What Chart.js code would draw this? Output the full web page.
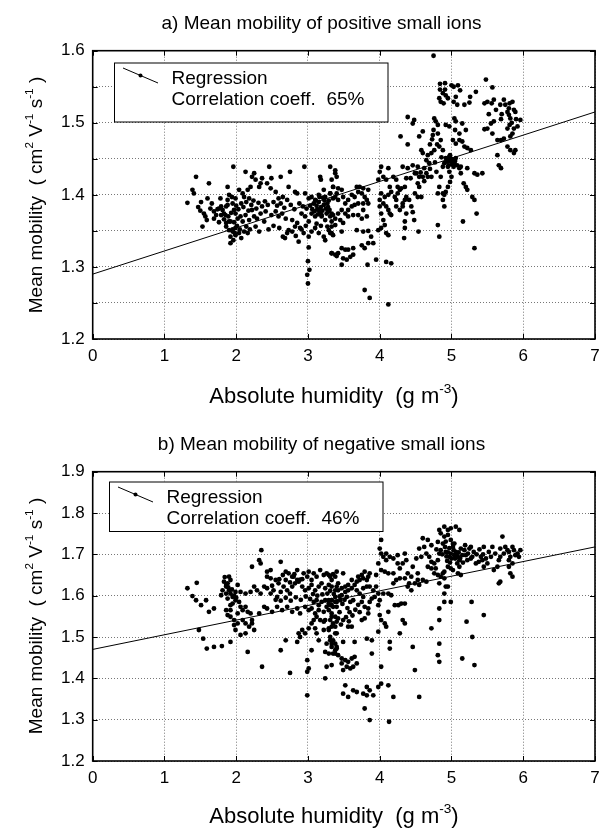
<!DOCTYPE html>
<html>
<head>
<meta charset="utf-8">
<script src="https://cdn.jsdelivr.net/npm/chart.js@4.4.1/dist/chart.umd.min.js"></script>
<style>
  body { margin: 0; background: #fff; font-family: "Liberation Sans", Arial, sans-serif; }
  #page { position: relative; width: 599px; height: 828px; overflow: hidden; }
  canvas { position: absolute; left: 0; }
  .txt { position: absolute; white-space: nowrap; color: #000; transform: translate(-50%, -50%); line-height: 1; }
  .ytitle { transform: translate(-50%, -50%) rotate(-90deg); }
  sup { font-size: 62%; line-height: 0; vertical-align: 0.75em; }
</style>
</head>
<body>
<div id="page">
  <canvas id="chartPos" width="599" height="414" style="top:0"></canvas>
  <canvas id="chartNeg" width="599" height="414" style="top:414px"></canvas>

  <div class="txt" style="left:321.5px;top:22px;font-size:19px">a) Mean mobility of positive small ions</div>
  <div class="txt ytitle" style="left:35px;top:195px;font-size:19px">Mean mobility&nbsp; ( cm<sup>2</sup> V<sup>-1</sup> s<sup>-1</sup> )</div>
  <div class="txt" style="left:334px;top:396px;font-size:22px">Absolute humidity&nbsp; (g m<sup>-3</sup>)</div>

  <div class="txt" style="left:321.5px;top:443px;font-size:19px">b) Mean mobility of negative small ions</div>
  <div class="txt ytitle" style="left:35px;top:616px;font-size:19px">Mean mobility&nbsp; ( cm<sup>2</sup> V<sup>-1</sup> s<sup>-1</sup> )</div>
  <div class="txt" style="left:334px;top:816px;font-size:22px">Absolute humidity&nbsp; (g m<sup>-3</sup>)</div>
</div>
<script>
// absolute humidity (g m-3) vs mean mobility (cm2 V-1 s-1)
const positiveIons = [
  [1.32,1.389],[1.44,1.425],[1.62,1.416],[1.39,1.407],[1.41,1.402],[1.51,1.390],[1.55,1.374],[1.59,1.365],
  [1.57,1.370],[1.69,1.377],[1.69,1.367],[1.79,1.384],[1.81,1.379],[1.85,1.372],[1.88,1.386],[1.90,1.363],
  [1.86,1.361],[1.92,1.333],[1.96,1.439],[1.74,1.380],[1.64,1.381],[1.50,1.378],[1.47,1.383],[1.53,1.356],
  [1.78,1.395],[1.83,1.366],[1.95,1.352],[1.98,1.347],
  [1.88,1.411],[1.90,1.400],[1.94,1.397],[1.88,1.393],[1.95,1.388],[1.99,1.395],[2.09,1.402],[2.16,1.407],
  [2.20,1.411],[2.04,1.407],[2.11,1.397],[2.18,1.395],[2.13,1.432],[2.25,1.430],[2.22,1.425],[2.27,1.421],
  [2.36,1.423],[2.34,1.416],[2.32,1.411],[2.46,1.439],[2.49,1.423],[2.43,1.416],[2.48,1.409],[2.55,1.404],
  [2.65,1.397],[2.71,1.393],[2.59,1.395],[2.62,1.425],[2.75,1.432],[2.95,1.439],[3.17,1.425],[3.18,1.421],
  [3.31,1.439],[3.38,1.434],
  [1.76,1.381],[1.79,1.372],[1.83,1.374],[1.86,1.384],[1.89,1.370],[1.92,1.363],[1.97,1.379],[1.99,1.374],
  [2.02,1.367],[2.06,1.370],[2.09,1.363],[2.13,1.372],[2.18,1.365],[2.22,1.379],[2.25,1.370],[2.29,1.367],
  [2.34,1.374],[2.39,1.363],[2.41,1.377],[2.49,1.372],[2.55,1.377],[2.59,1.370],[2.64,1.374],[2.69,1.367],
  [2.78,1.365],[2.85,1.361],[2.91,1.374],[2.96,1.370],[3.01,1.363],[3.05,1.374],[3.10,1.370],[3.15,1.379],
  [3.19,1.372],[3.24,1.365],[3.28,1.377],[3.33,1.374],[3.38,1.367],
  [1.86,1.356],[1.90,1.351],[1.95,1.349],[1.99,1.354],[1.92,1.342],[1.96,1.337],[1.99,1.344],[2.04,1.347],
  [2.11,1.349],[2.16,1.347],[2.32,1.349],[2.65,1.342],[2.68,1.340],[2.71,1.347],[2.73,1.351],[2.78,1.349],
  [2.82,1.356],[2.89,1.354],[2.94,1.347],[3.01,1.342],[3.05,1.349],[3.10,1.354],[3.15,1.347],[3.22,1.342],
  [3.24,1.337],[3.29,1.351],[3.33,1.347],
  [2.73,1.411],[2.82,1.404],[2.85,1.402],[2.96,1.402],[3.01,1.395],[3.05,1.397],[3.10,1.393],[3.15,1.400],
  [3.22,1.407],[3.24,1.397],[3.31,1.402],[3.35,1.395],[3.40,1.402],[3.35,1.411],
  [3.01,1.327],[3.00,1.308],[3.02,1.296],[2.99,1.289],[3.00,1.277],[3.33,1.319],[3.40,1.315],
  [3.12,1.385],[3.15,1.390],[3.18,1.383],[3.20,1.378],[3.22,1.386],[3.25,1.381],[3.17,1.376],[3.13,1.380],
  [3.27,1.388],[3.23,1.392],[3.19,1.370],[3.28,1.383],[3.08,1.388],[3.30,1.379],[3.21,1.396],[3.14,1.373],
  [2.00,1.385],[2.03,1.380],[2.07,1.388],[2.10,1.383],[2.14,1.390],[2.17,1.378],[2.21,1.386],[2.24,1.392],
  [2.28,1.381],[2.31,1.389],[2.36,1.384],[2.40,1.391],[2.44,1.386],[2.52,1.390],[2.57,1.385],[2.62,1.388],
  [2.67,1.382],[2.76,1.386],[2.81,1.380],[2.88,1.388],[2.93,1.384],[2.98,1.381],[3.03,1.385],[3.06,1.380],
  [3.09,1.377],[3.11,1.392],[3.16,1.397],[3.26,1.374],[3.29,1.392],[1.60,1.395],[1.66,1.388],[1.72,1.372],
  [1.76,1.362],[1.93,1.375],[1.97,1.362],[2.01,1.357],[2.05,1.352],[2.07,1.340],[2.14,1.356],[2.19,1.352],
  [2.27,1.356],[2.45,1.352],[2.52,1.357],[2.60,1.354],[2.83,1.343],[2.87,1.335],[2.91,1.352],[2.97,1.357],
  [3.12,1.360],[3.18,1.357],[3.27,1.356],
  [3.38,1.430],[3.33,1.421],[3.40,1.425],[3.35,1.411],[3.42,1.409],[3.31,1.402],[3.38,1.397],[3.42,1.393],
  [3.47,1.407],[3.49,1.397],[3.52,1.388],[3.56,1.393],[3.61,1.400],[3.65,1.397],[3.70,1.404],[3.75,1.402],
  [3.79,1.397],[3.84,1.407],[3.77,1.409],[3.72,1.411],[3.68,1.411],[3.82,1.393],[3.84,1.388],[3.77,1.388],
  [3.70,1.388],[3.65,1.386],[3.61,1.384],[3.56,1.379],[3.52,1.374],[3.47,1.379],[3.42,1.374],[3.35,1.372],
  [3.31,1.370],[3.33,1.363],[3.38,1.358],[3.45,1.365],[3.49,1.361],[3.56,1.370],[3.63,1.372],[3.70,1.372],
  [3.75,1.367],[3.82,1.370],[3.77,1.379],[3.33,1.356],[3.31,1.347],[3.35,1.344],[3.47,1.349],[3.68,1.351],
  [3.77,1.349],[3.84,1.350],[3.88,1.342],[3.91,1.333],[3.84,1.333],[3.75,1.330],[3.79,1.326],[3.63,1.326],
  [3.56,1.324],[3.52,1.324],[3.47,1.326],[3.42,1.319],[3.38,1.317],[3.33,1.319],[3.49,1.312],[3.54,1.310],
  [3.59,1.314],[3.63,1.317],[3.47,1.303],[3.95,1.310],[3.83,1.303],[4.09,1.307],[4.16,1.305],[3.79,1.268],
  [3.86,1.257],[4.12,1.248],
  [4.02,1.439],[4.00,1.432],[4.05,1.425],[4.09,1.421],[4.14,1.411],[4.16,1.404],[4.12,1.400],[4.07,1.397],
  [4.02,1.402],[4.00,1.393],[4.05,1.388],[4.09,1.384],[4.12,1.379],[4.14,1.374],[4.16,1.372],[4.00,1.384],
  [4.02,1.374],[4.05,1.365],[4.07,1.358],[4.02,1.354],[3.98,1.351],[4.09,1.347],[4.12,1.344],[4.21,1.397],
  [4.23,1.393],[4.25,1.402],[4.28,1.407],[4.30,1.409],[4.23,1.384],[4.28,1.379],[4.32,1.388],[4.35,1.393],
  [4.37,1.397],[4.32,1.384],[4.37,1.374],[4.35,1.363],[4.34,1.340],[4.48,1.365],[4.49,1.402],[4.53,1.397],
  [4.58,1.397],[4.55,1.411],[4.53,1.416],[4.60,1.425],[4.65,1.430],[4.49,1.430],[4.43,1.423],[4.37,1.423],
  [4.35,1.411],[4.46,1.441],[4.39,1.437],[4.32,1.439],[4.23,1.421],[4.25,1.411],[4.54,1.349],[4.35,1.354],
  [3.98,1.421],[4.12,1.437],[4.19,1.425],
  [4.41,1.393],[4.44,1.384],[4.46,1.376],[4.57,1.431],[4.62,1.419],[4.70,1.436],[4.77,1.445],[4.79,1.432],
  [4.86,1.452],[4.80,1.470],[4.70,1.470],[4.73,1.477],
  [4.39,1.508],[4.48,1.504],[4.46,1.499],[4.29,1.481],[4.39,1.470],[4.60,1.488],[4.55,1.481],
  [4.75,1.593],
  [4.84,1.554],[4.91,1.555],[4.84,1.546],[4.91,1.546],[4.88,1.541],[4.83,1.534],[4.85,1.529],[4.89,1.527],
  [4.92,1.538],[4.95,1.534],[5.00,1.552],[5.03,1.550],[5.09,1.552],[5.12,1.545],[5.06,1.536],[5.03,1.529],
  [5.08,1.525],[5.18,1.525],[5.25,1.528],[5.26,1.536],[5.34,1.543],
  [4.76,1.506],[4.78,1.502],[4.81,1.497],[4.75,1.490],[4.74,1.483],[4.81,1.485],[4.85,1.476],[4.83,1.467],
  [4.88,1.462],[4.76,1.462],[4.72,1.458],[4.67,1.455],[4.60,1.458],[4.58,1.462],[4.65,1.448],[4.69,1.444],
  [4.62,1.437],[4.53,1.439],[4.51,1.430],[4.55,1.425],[4.67,1.425],[4.72,1.425],[4.85,1.425],[4.83,1.411],
  [4.88,1.393],[4.90,1.384],[4.81,1.358],[4.83,1.342],
  [4.92,1.497],[4.97,1.495],[5.04,1.506],[5.06,1.502],[5.05,1.490],[5.11,1.485],[5.02,1.476],[5.06,1.471],
  [5.11,1.476],[5.15,1.474],[5.18,1.467],[5.22,1.465],[5.27,1.462],[5.20,1.490],[5.15,1.499],
  [4.92,1.451],[4.95,1.448],[4.97,1.453],[4.99,1.446],[5.02,1.449],[5.04,1.444],[5.06,1.451],[5.03,1.439],
  [5.08,1.441],[5.11,1.437],[5.13,1.439],[4.95,1.439],[4.90,1.444],[4.88,1.439],[4.97,1.432],[5.00,1.425],
  [4.98,1.418],[4.95,1.411],[4.92,1.404],[4.90,1.400],[4.88,1.402],[4.81,1.402],[5.22,1.437],[5.13,1.430],
  [4.98,1.455],[5.01,1.442],[4.94,1.446],[5.05,1.447],[5.00,1.450],[4.96,1.441],
  [5.32,1.430],[5.36,1.428],[5.43,1.430],[5.17,1.416],[5.20,1.411],[5.22,1.407],[5.29,1.397],[5.32,1.393],
  [5.35,1.374],[5.16,1.363],[5.32,1.326],
  [5.48,1.560],[5.57,1.549],[5.46,1.527],[5.50,1.529],[5.56,1.527],[5.59,1.532],[5.68,1.525],[5.73,1.532],
  [5.81,1.527],[5.85,1.529],[5.80,1.520],[5.87,1.518],[5.78,1.515],[5.80,1.511],[5.82,1.506],[5.89,1.515],
  [5.96,1.504],[5.92,1.495],[5.87,1.492],[5.81,1.497],[5.78,1.492],[5.69,1.505],[5.59,1.502],[5.55,1.499],
  [5.50,1.492],[5.46,1.491],[5.57,1.485],[5.64,1.476],[5.69,1.476],[5.73,1.478],[5.64,1.455],[5.66,1.441],
  [5.69,1.437],[5.78,1.467],[5.82,1.462],[5.87,1.458],[5.89,1.462],[5.85,1.485],[5.82,1.481],
  [5.52,1.512],[5.62,1.518],[5.75,1.525],[5.70,1.512],[5.84,1.500],[5.90,1.505]
];

const negativeIons = [
  [1.32,1.618],[1.45,1.631],[1.39,1.599],[1.44,1.589],[1.51,1.577],[1.58,1.589],[1.62,1.561],[1.69,1.569],
  [1.48,1.517],[1.54,1.496],[1.59,1.472],[1.69,1.476],[1.80,1.478],[1.92,1.488],
  [1.83,1.634],[1.88,1.630],[1.86,1.622],[1.90,1.613],[1.81,1.613],[1.79,1.601],[1.86,1.605],[1.92,1.605],
  [1.88,1.593],[1.95,1.597],[1.99,1.589],[1.95,1.581],[1.92,1.577],[1.90,1.646],[1.92,1.638],[1.86,1.626],
  [2.02,1.626],[1.99,1.609],[2.06,1.573],[2.09,1.565],[2.13,1.573],[2.16,1.561],[2.20,1.557],
  [1.84,1.645],[1.89,1.620],[1.94,1.615],[1.97,1.600],[2.00,1.595],[2.04,1.585],
  [1.86,1.565],[1.88,1.553],[1.92,1.549],[1.97,1.541],[2.02,1.533],[2.09,1.541],[2.13,1.533],[2.18,1.525],
  [2.22,1.533],[2.25,1.517],[2.13,1.509],[2.06,1.505],[1.99,1.517],[1.97,1.529],[1.92,1.565],[2.02,1.557],
  [2.16,1.464],[2.22,1.541],
  [2.32,1.557],[2.39,1.573],[2.43,1.569],[2.50,1.561],[2.57,1.573],[2.64,1.565],[2.71,1.573],[2.78,1.561],
  [2.85,1.569],[2.89,1.557],[2.96,1.573],[3.01,1.565],[3.05,1.569],[3.10,1.557],[3.15,1.565],[3.22,1.561],
  [3.26,1.573],[3.33,1.577],[3.40,1.573],
  [2.06,1.609],[2.13,1.605],[2.20,1.609],[2.25,1.622],[2.29,1.613],[2.34,1.605],[2.39,1.622],[2.43,1.618],
  [2.48,1.605],[2.52,1.613],[2.57,1.597],[2.62,1.609],[2.66,1.622],[2.71,1.613],[2.75,1.605],[2.78,1.622],
  [2.82,1.630],[2.87,1.634],[2.92,1.622],[2.96,1.613],[3.01,1.618],[3.05,1.626],[3.10,1.613],[3.15,1.622],
  [3.19,1.630],[3.24,1.618],[3.29,1.626],[3.33,1.622],[3.38,1.613],
  [2.55,1.590],[2.62,1.588],[2.69,1.595],[2.76,1.588],[2.83,1.596],[2.90,1.590],[2.97,1.598],[3.03,1.592],
  [2.60,1.640],[2.75,1.632],[2.92,1.640],[3.07,1.604],[3.13,1.600],[3.20,1.603],
  [2.43,1.646],[2.48,1.642],[2.50,1.624],[2.55,1.638],[2.59,1.630],[2.65,1.650],[2.69,1.638],[2.73,1.654],
  [2.78,1.646],[2.81,1.652],[2.85,1.662],[2.89,1.639],[2.94,1.654],[2.99,1.646],[3.01,1.658],[3.05,1.638],
  [3.08,1.654],[3.12,1.646],[3.17,1.662],[3.22,1.650],[3.26,1.654],[3.31,1.646],[3.35,1.652],[3.40,1.658],
  [2.22,1.670],[2.32,1.686],[2.34,1.678],[2.35,1.710],[2.43,1.658],[2.48,1.662],[2.62,1.682],
  [2.69,1.658],[2.80,1.646],[2.85,1.638],
  [2.36,1.428],[2.62,1.468],[2.69,1.492],[2.75,1.413],[2.85,1.488],[2.99,1.444],[3.01,1.424],[2.99,1.416],
  [2.99,1.359],[3.05,1.468],[3.12,1.509],[3.15,1.492],[3.22,1.517],[3.24,1.464],[3.24,1.400],[3.26,1.428],
  [3.33,1.432],[3.38,1.460],[3.24,1.541],[3.29,1.521],[3.33,1.549],[3.38,1.525],[3.40,1.509],[3.31,1.492],
  [3.26,1.484],[3.33,1.476],[3.38,1.484],[3.40,1.472],[3.22,1.537],[3.17,1.541],[3.12,1.549],[3.08,1.541],
  [3.05,1.533],[3.10,1.521],[3.01,1.521],[2.96,1.509],[2.89,1.500],[2.87,1.509],[2.92,1.517],
  [3.08,1.585],[3.12,1.589],[3.15,1.577],[3.19,1.585],[3.24,1.589],[3.29,1.581],[3.33,1.589],[3.38,1.585],
  [3.27,1.605],[3.31,1.612],[3.36,1.604],[3.44,1.598],[3.48,1.580],[3.51,1.590],[3.55,1.570],[3.58,1.560],
  [3.44,1.560],[3.42,1.545],[3.46,1.530],[3.53,1.548],[3.57,1.538],[3.62,1.552],[3.66,1.566],[3.70,1.578],
  [3.72,1.560],
  [3.29,1.650],[3.33,1.638],[3.38,1.646],[3.42,1.630],[3.49,1.654],[3.40,1.622],[3.47,1.618],[3.52,1.622],
  [3.56,1.613],[3.61,1.618],[3.65,1.626],[3.70,1.646],[3.75,1.650],[3.77,1.642],[3.82,1.638],[3.84,1.646],
  [3.86,1.654],[3.79,1.658],[3.72,1.638],[3.68,1.634],[3.61,1.638],[3.56,1.626],[3.52,1.609],[3.47,1.601],
  [3.42,1.613],[3.38,1.597],[3.33,1.589],[3.29,1.589],[3.31,1.577],[3.35,1.573],[3.40,1.585],[3.45,1.589],
  [3.54,1.597],[3.59,1.585],[3.63,1.589],[3.77,1.618],[3.82,1.622],[3.86,1.622],[3.91,1.613],[3.95,1.622],
  [3.98,1.605],[3.93,1.597],[3.89,1.593],[3.77,1.597],[3.72,1.605],[3.68,1.613],
  [3.29,1.565],[3.33,1.557],[3.38,1.549],[3.31,1.541],[3.35,1.533],[3.40,1.537],[3.33,1.525],[3.29,1.517],
  [3.38,1.509],[3.31,1.500],[3.35,1.492],[3.33,1.484],[3.40,1.476],[3.38,1.468],[3.29,1.460],[3.35,1.460],
  [3.49,1.541],[3.56,1.525],[3.61,1.525],[3.49,1.488],[3.65,1.488],[3.42,1.456],[3.47,1.448],[3.52,1.444],
  [3.56,1.440],[3.61,1.448],[3.65,1.452],[3.68,1.436],[3.63,1.428],[3.59,1.424],[3.54,1.428],[3.49,1.420],
  [3.47,1.436],[3.75,1.585],[3.79,1.573],[3.84,1.569],[3.86,1.585],[3.75,1.541],[3.79,1.545],[3.84,1.557],
  [3.82,1.496],[3.89,1.492],[3.89,1.460],[4.00,1.553],[4.02,1.541],[4.07,1.533],[4.09,1.525],[4.12,1.561],
  [3.98,1.513],[3.98,1.577],[4.00,1.589],[4.05,1.605],[4.12,1.605],[4.16,1.601],[4.21,1.577],[4.26,1.577],
  [4.30,1.581],[4.35,1.581],[4.32,1.541],[4.35,1.533],[4.28,1.509],[4.14,1.488],[4.14,1.472],[4.02,1.428],
  [4.46,1.476],[4.49,1.420],[4.55,1.355],[4.19,1.355],[4.12,1.383],[4.02,1.387],[3.98,1.379],[3.91,1.359],
  [3.86,1.371],[3.82,1.379],[3.82,1.359],[3.77,1.363],[3.68,1.367],[3.63,1.371],[3.56,1.355],[3.49,1.363],
  [3.52,1.383],[3.79,1.327],[3.86,1.299],[4.13,1.295],
  [4.02,1.735],[4.00,1.714],[4.02,1.702],[4.05,1.694],[4.09,1.686],[4.14,1.694],[4.09,1.702],[4.19,1.690],
  [4.25,1.698],[4.35,1.702],[4.37,1.686],[4.32,1.678],[4.25,1.678],[4.28,1.666],[4.19,1.654],[4.12,1.654],
  [4.07,1.658],[4.02,1.662],[3.98,1.678],[3.95,1.650],[4.19,1.630],[4.23,1.638],[4.28,1.642],[4.35,1.642],
  [4.39,1.654],[4.44,1.646],[4.49,1.630],[4.53,1.638],[4.55,1.626],[4.60,1.638],[4.65,1.634],[4.53,1.654],
  [4.41,1.630],[4.39,1.622],[4.44,1.613],[4.46,1.670],[4.51,1.690],[4.58,1.694],[4.55,1.714],[4.62,1.718],
  [4.67,1.735],[4.72,1.722],[4.60,1.739],[4.65,1.702],[4.69,1.694],[4.72,1.682],[4.76,1.678],[4.78,1.666],
  [4.72,1.666],[4.67,1.670],[4.76,1.654],[4.81,1.650],[4.85,1.646],[4.90,1.642],[4.83,1.630],[4.92,1.622],
  [4.95,1.622],[4.88,1.654],[4.83,1.702],[4.83,1.759],[4.85,1.751],[4.90,1.743],[4.88,1.726],[4.85,1.710],
  [4.92,1.706],[4.97,1.694],[4.99,1.702],[5.02,1.718],[5.04,1.726],[5.06,1.706],[5.09,1.694],[5.11,1.686],
  [5.13,1.714],[5.15,1.698],[5.18,1.710],[5.20,1.698],[5.22,1.686],[5.25,1.714],[5.27,1.718],[5.29,1.694],
  [5.34,1.678],[5.38,1.682],[5.41,1.694],[5.43,1.686],[5.45,1.670],[5.50,1.678],[5.55,1.694],[5.57,1.718],
  [5.61,1.702],[5.64,1.670],[5.68,1.694],[5.66,1.686],[5.73,1.702],[5.68,1.714],[5.75,1.718],[5.78,1.710],
  [5.80,1.706],[5.85,1.718],[5.87,1.710],[5.89,1.698],[5.92,1.702],[5.94,1.694],[5.96,1.710],[5.82,1.694],
  [5.80,1.686],[5.85,1.678],[5.80,1.670],[5.82,1.654],[5.85,1.646],[5.66,1.630],[5.68,1.634],[5.71,1.743],
  [5.59,1.662],[5.45,1.718],
  [4.90,1.767],[4.95,1.759],[4.99,1.763],[5.06,1.767],[5.11,1.759],[4.92,1.731],[4.95,1.747],[4.99,1.735],
  [5.04,1.698],[5.11,1.670],[5.13,1.650],[5.09,1.654],[5.02,1.662],[4.99,1.666],[4.95,1.670],[4.90,1.658],
  [4.81,1.686],
  [4.95,1.705],[5.00,1.690],[5.03,1.710],[5.07,1.700],[4.97,1.715],[5.10,1.705],[5.05,1.690],[4.93,1.695],
  [5.12,1.690],[5.02,1.725],
  [4.79,1.712],[4.81,1.730],[4.87,1.700],[4.91,1.718],[4.94,1.684],[4.98,1.680],[5.08,1.678],[5.16,1.680],
  [5.19,1.722],[5.23,1.702],[5.27,1.690],[5.31,1.706],[5.35,1.700],[5.39,1.712],[5.44,1.700],[5.48,1.690],
  [5.52,1.706],
  [4.90,1.585],[4.90,1.605],[4.99,1.585],[4.83,1.569],[4.72,1.521],[4.83,1.541],[4.83,1.484],[4.81,1.456],
  [4.83,1.440],[5.15,1.448],[5.32,1.432],[5.21,1.537],[5.28,1.585],[5.29,1.500],[5.45,1.553]
];

// regression lines (end points at x = 0 and x = 7)
const positiveFit = [[0, 1.29], [7, 1.515]];
const negativeFit = [[0, 1.47], [7, 1.718]];
const positiveCorr = '65%';
const negativeCorr = '46%';

const FONT = '"Liberation Sans", Arial, sans-serif';

// box round the plot + small inward ticks
const frame = {
  id: 'frame',
  afterDatasetsDraw(chart) {
    const {ctx, chartArea: a, scales} = chart;
    ctx.save();
    ctx.strokeStyle = '#000';
    ctx.lineWidth = 1;
    ctx.beginPath();
    scales.y.ticks.forEach(t => {
      const y = Math.round(scales.y.getPixelForValue(t.value)) + 0.5;
      ctx.moveTo(a.left, y); ctx.lineTo(a.left + 5, y);
      ctx.moveTo(a.right, y); ctx.lineTo(a.right - 5, y);
    });
    scales.x.ticks.forEach(t => {
      const x = Math.round(scales.x.getPixelForValue(t.value)) + 0.5;
      ctx.moveTo(x, a.bottom); ctx.lineTo(x, a.bottom - 5);
      ctx.moveTo(x, a.top); ctx.lineTo(x, a.top + 5);
    });
    ctx.stroke();
    ctx.lineWidth = 1.6;
    ctx.strokeRect(a.left, a.top, a.right - a.left, a.bottom - a.top);
    ctx.restore();
  }
};

const legendBox = {
  id: 'legendBox',
  afterDraw(chart, args, o) {
    const ctx = chart.ctx;
    ctx.save();
    ctx.fillStyle = '#fff';
    ctx.fillRect(o.x, o.y, o.w, o.h);
    ctx.strokeStyle = '#000';
    ctx.lineWidth = 1;
    ctx.strokeRect(o.x + 0.5, o.y + 0.5, o.w, o.h);
    ctx.beginPath();
    ctx.moveTo(o.x + 9, o.y + 5.5);
    ctx.lineTo(o.x + 44, o.y + 20.5);
    ctx.stroke();
    ctx.beginPath();
    ctx.arc(o.x + 26.5, o.y + 13, 2, 0, Math.PI * 2);
    ctx.fillStyle = '#000';
    ctx.fill();
    ctx.font = '19px ' + FONT;
    ctx.textBaseline = 'middle';
    ctx.fillText('Regression', o.x + 57.5, o.y + 15.8);
    ctx.fillText('Correlation coeff.  ' + o.corr, o.x + 57.5, o.y + 37.3);
    ctx.restore();
  }
};

function makeChart(id, pts, fit, yMin, yMax, yStep, padTop, padBottom, legend) {
  return new Chart(document.getElementById(id), {
    type: 'scatter',
    data: {
      datasets: [
        {
          data: pts.map(p => ({x: p[0], y: p[1]})),
          pointRadius: 2.4,
          pointBackgroundColor: '#000',
          pointBorderWidth: 0,
          showLine: false
        },
        {
          data: fit.map(p => ({x: p[0], y: p[1]})),
          showLine: true,
          borderColor: '#000',
          borderWidth: 1,
          pointRadius: 0
        }
      ]
    },
    options: {
      responsive: false,
      animation: false,
      events: [],
      layout: { padding: { left: 0, right: 0.7, top: padTop, bottom: padBottom } },
      plugins: {
        legend: { display: false },
        tooltip: { enabled: false },
        legendBox: legend
      },
      scales: {
        x: {
          type: 'linear', min: 0, max: 7,
          ticks: { stepSize: 1, autoSkip: false, maxRotation: 0, padding: 7, color: '#000',
                   font: { family: FONT, size: 17 } },
          grid: { color: '#777', lineWidth: 1, drawTicks: false },
          border: { display: false, dash: [1, 2] },
          afterFit(s) { s.height = 40; s.paddingLeft = 0; s.paddingRight = 0; }
        },
        y: {
          type: 'linear', min: yMin, max: yMax,
          ticks: { stepSize: yStep, autoSkip: false, padding: 8, color: '#000',
                   font: { family: FONT, size: 17 },
                   callback: v => Math.abs(v * 10 - Math.round(v * 10)) < 1e-6 ? v.toFixed(1) : '' },
          grid: { color: '#777', lineWidth: 1, drawTicks: false },
          border: { display: false, dash: [1, 2] },
          afterFit(s) { s.width = 92.7; s.paddingTop = 0; s.paddingBottom = 0; }
        }
      }
    },
    plugins: [frame, legendBox]
  });
}

makeChart('chartPos', positiveIons, positiveFit, 1.2, 1.6, 0.05, 50.7, 35,
  { x: 114, y: 62.5, w: 273.5, h: 59, corr: positiveCorr });
makeChart('chartNeg', negativeIons, negativeFit, 1.2, 1.9, 0.1, 57.7, 27,
  { x: 109, y: 67.5, w: 273.5, h: 49.5, corr: negativeCorr });
</script>
</body>
</html>
